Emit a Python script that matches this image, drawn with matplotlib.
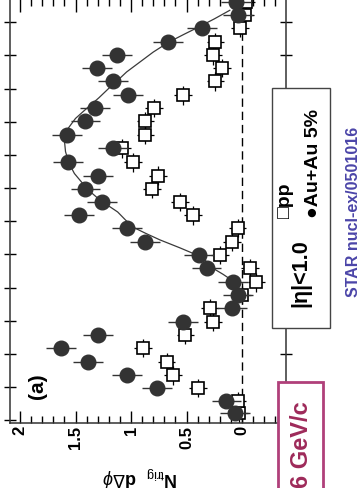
import numpy as np
import matplotlib
matplotlib.use("Agg")
from matplotlib import pyplot as plt
from matplotlib.patches import Rectangle

plt.rcParams['font.family'] = ['Liberation Sans', 'DejaVu Sans']
plt.rcParams['mathtext.fontset'] = 'custom'
plt.rcParams['mathtext.rm'] = 'Liberation Sans'
plt.rcParams['mathtext.it'] = 'Liberation Sans:italic'
plt.rcParams['mathtext.bf'] = 'Liberation Sans:bold'

# delta-phi bin centres (rad)
dphi = [-0.89, -0.71, -0.51, -0.32, -0.12, 0.09, 0.29, 0.48, 0.69, 0.89,
        1.08, 1.29, 1.49, 1.69, 1.90, 2.09, 2.29, 2.49, 2.69, 2.89,
        3.10, 3.30, 3.51, 3.71, 3.90, 4.11, 4.31, 4.50, 4.70, 4.91,
        5.11, 5.31]

# Au+Au 5% central
auau = [0.06, 0.14, 0.77, 1.04, 1.39, 1.63, 1.30, 0.53, 0.09, 0.04,
        0.08, 0.32, 0.39, 0.87, 1.04, 1.47, 1.26, 1.41, 1.30, 1.57,
        1.16, 1.58, 1.41, 1.32, 1.03, 1.16, 1.31, 1.13, 0.67, 0.36,
        0.04, 0.05]

# p+p
pp = [0.03, 0.04, 0.40, 0.62, 0.68, 0.89, 0.51, 0.26, 0.29, 0.00,
      -0.13, -0.07, 0.20, 0.09, 0.04, 0.44, 0.56, 0.81, 0.76, 0.98,
      1.08, 0.87, 0.87, 0.79, 0.53, 0.24, 0.18, 0.26, 0.24, 0.02,
      -0.03, -0.04]

auau_err = 0.135
pp_err = 0.08
pp_dphi_err = 0.14

# away-side fit curve
curve_dphi = [1.04, 1.11, 1.20, 1.27, 1.38, 1.48, 1.60, 1.72, 1.82, 1.91,
              2.02, 2.14, 2.32, 2.45, 2.58, 2.72, 2.88, 3.05, 3.22, 3.37,
              3.55, 3.70, 3.86, 4.02, 4.14, 4.25, 4.40, 4.55, 4.70, 4.82,
              4.92, 5.05, 5.18]
curve_val = [0.02, 0.09, 0.17, 0.24, 0.31, 0.39, 0.56, 0.74, 0.87, 0.98,
             1.05, 1.12, 1.28, 1.37, 1.44, 1.51, 1.56, 1.59, 1.60, 1.58,
             1.50, 1.40, 1.29, 1.19, 1.11, 1.04, 0.92, 0.80, 0.66, 0.52,
             0.40, 0.25, 0.11]

val_ticks = [0, 0.5, 1, 1.5, 2]
val_labels = ['0', '0.5', '1', '1.5', '2']

W, H = 362, 488
fig = plt.figure(figsize=(W / 100, H / 100), dpi=100)


def fx(x):
    return x / W


def fy(y):
    return 1 - y / H


ax = fig.add_axes([fx(10), fy(423), (286 - 10) / W, (424) / H])

ax.plot(curve_val, curve_dphi, color='#3a3a3a', lw=0.9, zorder=2)
ax.axvline(0, color='black', lw=1.0, ls=(0, (6, 3.5)), zorder=1)

ax.errorbar(pp, dphi, xerr=pp_err, yerr=pp_dphi_err, fmt='s', ms=8.5,
            mfc='white', mec='black', mew=1.2, ecolor='black', elinewidth=0.9,
            capsize=0, zorder=3)
ax.errorbar(auau, dphi, xerr=auau_err, fmt='o', ms=10.5,
            mfc='#333333', mec='#333333', ecolor='#333333', elinewidth=1.0,
            capsize=0, zorder=4)

ax.set_xlim(2.09, -0.396)
ax.set_ylim(-1.04, 5.35)

ax.set_xticks(val_ticks)
ax.set_xticklabels(val_labels, rotation=90, fontweight='bold', fontsize=12)
ax.set_xticks(np.arange(-0.3, 2.05, 0.1), minor=True)
ax.set_yticks(np.arange(-1.0, 5.4, 0.5))
ax.tick_params(axis='x', which='major', direction='in', length=9, width=1,
               top=True, pad=2)
ax.tick_params(axis='x', which='minor', direction='in', length=5, width=1,
               top=True)
ax.tick_params(axis='y', which='major', direction='inout', length=8, width=1,
               left=True, right=True, labelleft=False)
for s in ax.spines.values():
    s.set_linewidth(1.1)
    s.set_color('#333333')

# rotated labels
fig.text(fx(140), fy(476), r'$\mathbf{N}_{\rm trig}$  d$\Delta\phi$',
         rotation=180, ha='center', va='center', fontsize=13,
         fontweight='bold')
fig.text(fx(37), fy(386), '(a)', rotation=90, ha='center', va='center',
         fontsize=15, fontweight='bold')

# legend box
fig.patches.append(Rectangle((fx(272), fy(328)), (330 - 272) / W,
                             (328 - 88) / H, transform=fig.transFigure,
                             facecolor='white', edgecolor='#444444', lw=1.0,
                             zorder=5))
fig.text(fx(301), fy(307), '|η|<1.0', rotation=90, rotation_mode='anchor',
         ha='left', va='center', fontsize=15.5, fontweight='bold', zorder=6)
fig.text(fx(285), fy(218), '□pp', rotation=90, rotation_mode='anchor',
         ha='left', va='center', fontsize=14, fontweight='bold', zorder=6)
fig.text(fx(313), fy(218), '●Au+Au 5%', rotation=90, rotation_mode='anchor',
         ha='left', va='center', fontsize=14, fontweight='bold', zorder=6)

# trigger pT box
fig.patches.append(Rectangle((fx(278), fy(492)), (323 - 278) / W,
                             (492 - 382) / H, transform=fig.transFigure,
                             facecolor='white', edgecolor='#b0407a', lw=2.0,
                             zorder=5))
fig.text(fx(301), fy(488), '6 GeV/c', rotation=90, rotation_mode='anchor',
         ha='left', va='center', fontsize=17, fontweight='bold',
         color='#9e2a5a', zorder=6)

fig.text(fx(353), fy(212), 'STAR nucl-ex/0501016', rotation=90,
         ha='center', va='center', fontsize=11.5, fontweight='bold',
         color='#4b45a8')

fig.savefig('out.png', dpi=100)
